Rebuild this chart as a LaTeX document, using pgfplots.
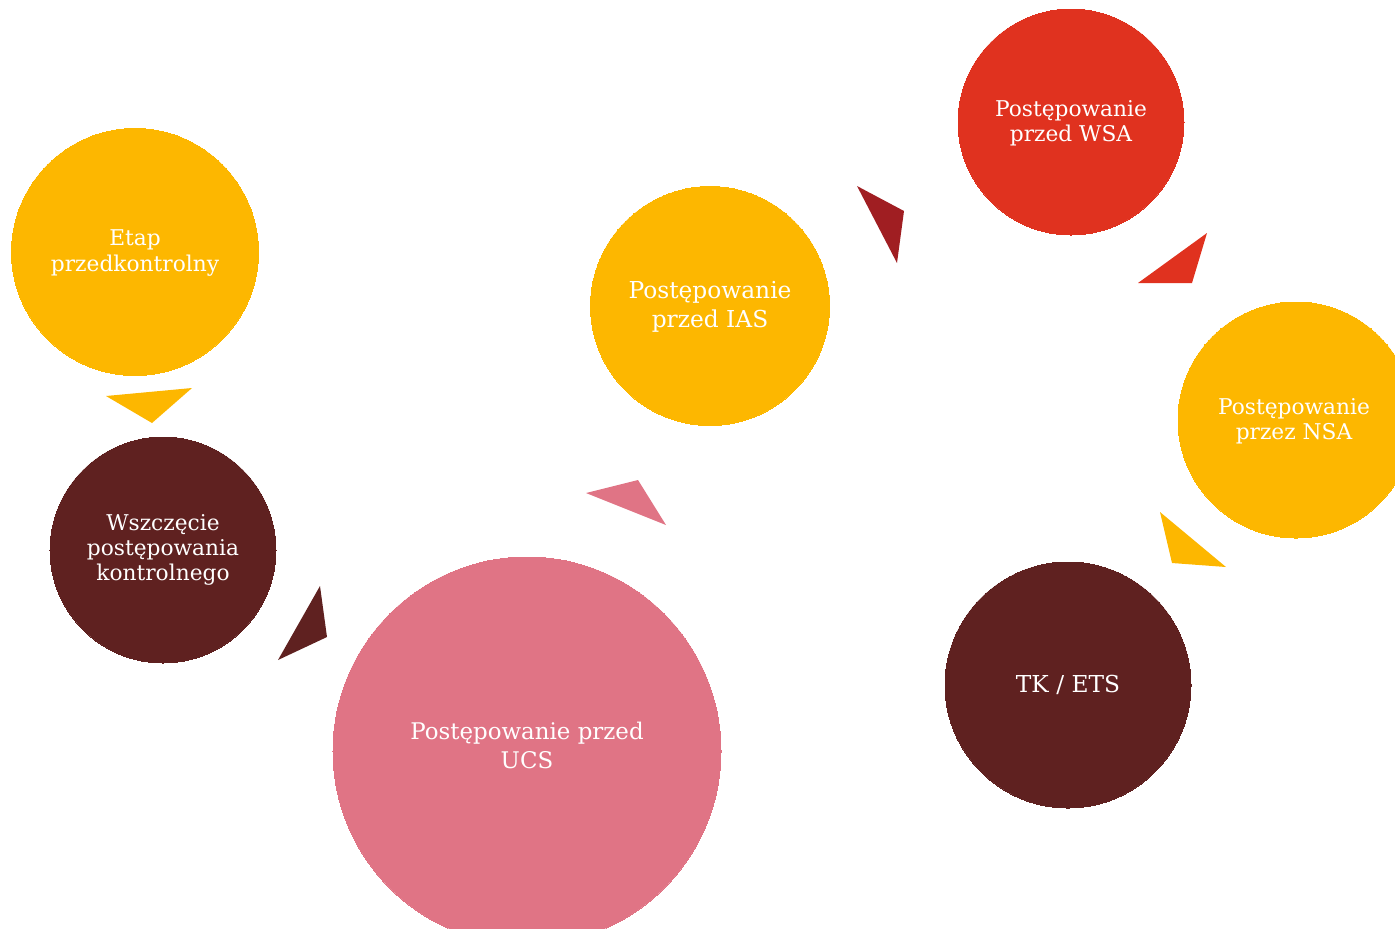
\documentclass[border=0pt]{standalone}
\usepackage{pgfplots}
\pgfplotsset{compat=1.18}
\usepackage{fontspec}
\setmainfont{DejaVu Serif}
\definecolor{cyel}{HTML}{FDB700}
\definecolor{cbrown}{HTML}{5F2120}
\definecolor{cpink}{HTML}{E07485}
\definecolor{cred}{HTML}{E0321F}
\definecolor{cdred}{HTML}{A01E22}
\newcommand{\fa}{\fontsize{10.9}{12.6}\selectfont}
\newcommand{\fb}{\fontsize{11.7}{14.5}\selectfont}
\newcommand{\fc}{\fontsize{11.5}{14.5}\selectfont}
\begin{document}
\begin{tikzpicture}
\begin{axis}[name=ax, hide axis, x=0.5bp, y=0.5bp, y dir=reverse,
  xmin=0, xmax=1395, ymin=0, ymax=928, clip marker paths=true,
  circ/.style={only marks, mark=*, color=#1, mark options={line width=0pt}}]
% circles: (x,y), radius in px -> mark size = r*0.5bp
\addplot[circ=cyel, mark size=61.75bp] coordinates {(135,252)};
\addplot[circ=cbrown, mark size=56.5bp] coordinates {(163,550)};
\addplot[circ=cpink, mark size=97bp] coordinates {(527,751)};
\addplot[circ=cyel, mark size=59.75bp] coordinates {(710,306)};
\addplot[circ=cred, mark size=56.5bp] coordinates {(1071,122)};
\addplot[circ=cyel, mark size=59bp] coordinates {(1296,420)};
\addplot[circ=cbrown, mark size=61.5bp] coordinates {(1068,685)};
% triangles
\addplot[no marks, draw=none, fill=cyel] coordinates {(106,396) (192,388) (152,423)} -- cycle;
\addplot[no marks, draw=none, fill=cbrown] coordinates {(278,660) (320,586) (327,637)} -- cycle;
\addplot[no marks, draw=none, fill=cpink] coordinates {(586,493) (638,480) (666,525)} -- cycle;
\addplot[no marks, draw=none, fill=cdred] coordinates {(857,186) (904,211) (897,263)} -- cycle;
\addplot[no marks, draw=none, fill=cred] coordinates {(1138,283) (1207,233) (1192,283)} -- cycle;
\addplot[no marks, draw=none, fill=cyel] coordinates {(1160,512) (1226,567) (1172,563)} -- cycle;
% labels
\node[text=white, align=center, font=\fa] at (axis cs:135,253) {Etap\\przedkontrolny};
\node[text=white, align=center, font=\fa] at (axis cs:163,550) {Wszczęcie\\postępowania\\kontrolnego};
\node[text=white, align=center, font=\fc] at (axis cs:527,745) {Postępowanie przed\\UCS};
\node[text=white, align=center, font=\fb] at (axis cs:710,307) {Postępowanie\\przed IAS};
\node[text=white, align=center, font=\fa] at (axis cs:1071,123) {Postępowanie\\przed WSA};
\node[text=white, align=center, font=\fa] at (axis cs:1294,421) {Postępowanie\\przez NSA};
\node[text=white, align=center, font=\fb] at (axis cs:1068,685) {TK / ETS};
\end{axis}
\pgfresetboundingbox
\path (ax.south west) rectangle (ax.north east);
\end{tikzpicture}
\end{document}
